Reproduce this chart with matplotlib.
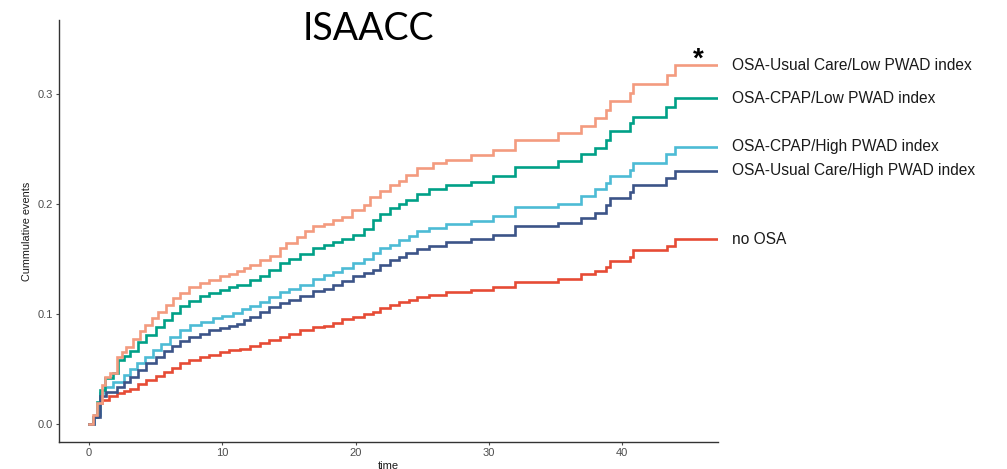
#!/usr/bin/env python3
"""Cumulative events by OSA group (ISAACC)."""

import matplotlib

matplotlib.use("Agg")
import matplotlib.pyplot as plt

# step points: (time of step, cumulative events after step)
usual_low_t = [0, 0.3, 0.6, 0.95, 1.2, 1.6, 2.1, 2.5, 2.8, 3.3, 3.8, 4.2, 4.7, 5.2, 5.8, 6.3,
               6.8, 7.5, 8.3, 9.0, 9.8, 10.5, 11.1, 11.6, 12.1, 12.8, 13.6, 14.3, 14.8, 15.6,
               16.2, 16.8, 17.6, 18.3, 18.95, 19.7, 20.6, 21.1, 21.8, 22.6, 23.3, 23.8, 24.6,
               25.8, 26.8, 28.7, 30.3, 31.95, 35.2, 36.95, 37.96, 38.8, 39.1, 40.6, 40.8,
               43.4, 44.0, 47.2]
usual_low_v = [0, 0.008, 0.019, 0.035, 0.043, 0.046, 0.061, 0.065, 0.070, 0.077, 0.084, 0.090,
               0.096, 0.102, 0.108, 0.114, 0.119, 0.124, 0.128, 0.131, 0.134, 0.136, 0.1385,
               0.142, 0.1445, 0.149, 0.153, 0.160, 0.164, 0.170, 0.175, 0.180, 0.182, 0.185,
               0.188, 0.194, 0.199, 0.206, 0.212, 0.217, 0.221, 0.226, 0.2325, 0.237, 0.240,
               0.2445, 0.249, 0.258, 0.264, 0.271, 0.278, 0.285, 0.293, 0.301, 0.309, 0.317,
               0.326, 0.326]

cpap_low_t = [0, 0.3, 0.6, 0.8, 1.2, 1.8, 2.2, 2.6, 3.1, 3.7, 4.3, 5.0, 5.6, 6.2, 6.8, 7.5,
              8.3, 9.0, 9.8, 10.5, 11.1, 12.1, 12.8, 13.5, 14.3, 15.0, 15.8, 16.8, 17.6, 18.3,
              18.95, 19.8, 20.6, 21.3, 21.8, 22.6, 23.3, 23.8, 24.6, 25.5, 26.8, 28.7, 30.3,
              31.95, 35.2, 36.95, 37.96, 38.8, 39.1, 40.6, 40.8, 43.3, 44.0, 47.2]
cpap_low_v = [0, 0.006, 0.02, 0.031, 0.0415, 0.046, 0.058, 0.062, 0.066, 0.074, 0.081, 0.088,
              0.0945, 0.101, 0.107, 0.112, 0.116, 0.119, 0.122, 0.124, 0.126, 0.131, 0.134,
              0.140, 0.146, 0.150, 0.1545, 0.160, 0.163, 0.165, 0.168, 0.172, 0.177, 0.185,
              0.191, 0.196, 0.200, 0.2036, 0.209, 0.2136, 0.2167, 0.220, 0.225, 0.233, 0.2385,
              0.245, 0.251, 0.258, 0.266, 0.273, 0.279, 0.288, 0.296, 0.296]

cpap_high_t = [0, 0.4, 0.8, 1.2, 1.8, 2.6, 3.1, 3.6, 4.2, 4.8, 5.4, 6.1, 6.8, 7.6, 8.4, 9.3,
               10.0, 10.8, 11.5, 12.1, 12.8, 13.5, 14.3, 15.0, 15.8, 16.8, 17.6, 18.3, 18.95,
               19.8, 20.6, 21.3, 21.8, 22.6, 23.3, 24.0, 24.6, 25.5, 26.8, 28.7, 30.3, 31.95,
               35.2, 36.95, 37.96, 38.8, 39.1, 40.6, 40.8, 43.3, 44.0, 47.2]
cpap_high_v = [0, 0.008, 0.028, 0.034, 0.0385, 0.0445, 0.050, 0.055, 0.061, 0.067, 0.073,
               0.079, 0.085, 0.090, 0.093, 0.096, 0.098, 0.1006, 0.104, 0.107, 0.111, 0.115,
               0.120, 0.123, 0.126, 0.132, 0.135, 0.138, 0.142, 0.146, 0.150, 0.155, 0.160,
               0.163, 0.167, 0.171, 0.175, 0.178, 0.1815, 0.1845, 0.1885, 0.197, 0.200,
               0.2067, 0.213, 0.219, 0.225, 0.231, 0.237, 0.245, 0.252, 0.252]

usual_high_t = [0, 0.4, 0.8, 1.3, 2.1, 2.6, 3.1, 3.7, 4.3, 5.0, 5.6, 6.2, 6.8, 7.5, 8.3, 9.0,
                9.8, 10.5, 11.1, 11.6, 12.1, 12.8, 13.5, 14.3, 15.0, 15.8, 16.8, 17.6, 18.3,
                18.95, 19.8, 20.6, 21.3, 21.8, 22.6, 23.3, 23.8, 24.6, 25.5, 26.8, 28.7, 30.3,
                31.95, 35.2, 36.95, 37.96, 38.8, 39.1, 40.6, 40.8, 43.3, 44.0, 47.2]
usual_high_v = [0, 0.006, 0.025, 0.029, 0.034, 0.038, 0.043, 0.049, 0.055, 0.061, 0.066,
                0.071, 0.075, 0.079, 0.082, 0.085, 0.087, 0.089, 0.091, 0.0945, 0.0975, 0.102,
                0.106, 0.110, 0.113, 0.116, 0.121, 0.123, 0.126, 0.130, 0.134, 0.137, 0.140,
                0.1445, 0.149, 0.152, 0.155, 0.159, 0.162, 0.165, 0.168, 0.1718, 0.1794,
                0.1824, 0.1875, 0.192, 0.199, 0.205, 0.211, 0.217, 0.223, 0.230, 0.230]

no_osa_t = [0, 0.3, 0.7, 1.0, 1.5, 2.1, 2.6, 3.1, 3.7, 4.3, 5.0, 5.6, 6.2, 6.8, 7.5, 8.3, 9.0,
            9.8, 10.5, 11.3, 12.1, 12.8, 13.5, 14.3, 15.0, 15.8, 16.8, 17.6, 18.3, 19.0, 19.8,
            20.6, 21.3, 21.8, 22.6, 23.3, 24.0, 24.6, 25.5, 26.8, 28.7, 30.3, 31.95, 35.2,
            36.95, 37.96, 38.8, 39.1, 40.6, 40.8, 43.4, 44.0, 47.2]
no_osa_v = [0, 0.006, 0.019, 0.022, 0.025, 0.028, 0.030, 0.032, 0.036, 0.040, 0.044, 0.0475,
            0.051, 0.055, 0.058, 0.061, 0.063, 0.065, 0.067, 0.068, 0.071, 0.0735, 0.076,
            0.079, 0.082, 0.085, 0.088, 0.089, 0.092, 0.095, 0.097, 0.100, 0.102, 0.105,
            0.108, 0.111, 0.113, 0.115, 0.117, 0.1197, 0.1218, 0.1248, 0.129, 0.132, 0.1365,
            0.1385, 0.143, 0.148, 0.152, 0.158, 0.162, 0.168, 0.168]

series = [
    ("no OSA", no_osa_t, no_osa_v, "#E64B35"),
    ("OSA-CPAP/High PWAD index", cpap_high_t, cpap_high_v, "#4DBBD5"),
    ("OSA-CPAP/Low PWAD index", cpap_low_t, cpap_low_v, "#00A087"),
    ("OSA-Usual Care/High PWAD index", usual_high_t, usual_high_v, "#3C5488"),
    ("OSA-Usual Care/Low PWAD index", usual_low_t, usual_low_v, "#F39B7F"),
]


def main() -> None:
    plt.rcParams["font.family"] = ["Liberation Sans", "DejaVu Sans"]
    fig = plt.figure(figsize=(10.07, 4.69), dpi=100)
    ax = fig.add_axes([0.0586, 0.0576, 0.6544, 0.8998])

    for label, t, v, color in series:
        ax.plot(t, v, drawstyle="steps-post", color=color, linewidth=1.9,
                solid_joinstyle="miter")
        ax.text(t[-1] + 1.05, v[-1], label, fontsize=11.2, color="#1a1a1a",
                va="center", ha="left", clip_on=False)

    ax.text(45.7, usual_low_v[-1] + 0.005, "*", fontsize=20, fontweight="bold",
            ha="center", va="center", color="black", clip_on=False)

    ax.set_xlim(-2.25, 47.2)
    ax.set_ylim(-0.0164, 0.367)
    ax.set_xticks([0, 10, 20, 30, 40])
    ax.set_yticks([0.0, 0.1, 0.2, 0.3])
    ax.set_yticklabels(["0.0", "0.1", "0.2", "0.3"])
    ax.tick_params(labelsize=8, colors="#4d4d4d", length=2.5, width=0.8, pad=2)
    ax.set_xlabel("time", fontsize=8, color="#1a1a1a", labelpad=2)
    ax.set_ylabel("Cummulative events", fontsize=7.8, color="#1a1a1a", labelpad=4)
    for side in ("top", "right"):
        ax.spines[side].set_visible(False)
    for side in ("left", "bottom"):
        ax.spines[side].set_color("#333333")
        ax.spines[side].set_linewidth(1.0)

    fig.text(0.3655, 0.939, "ISAACC", fontsize=27, family=["Lato", "DejaVu Sans"],
             ha="center", va="center", color="black")

    fig.savefig("out.png", dpi=100)
    plt.close(fig)


if __name__ == "__main__":
    main()
